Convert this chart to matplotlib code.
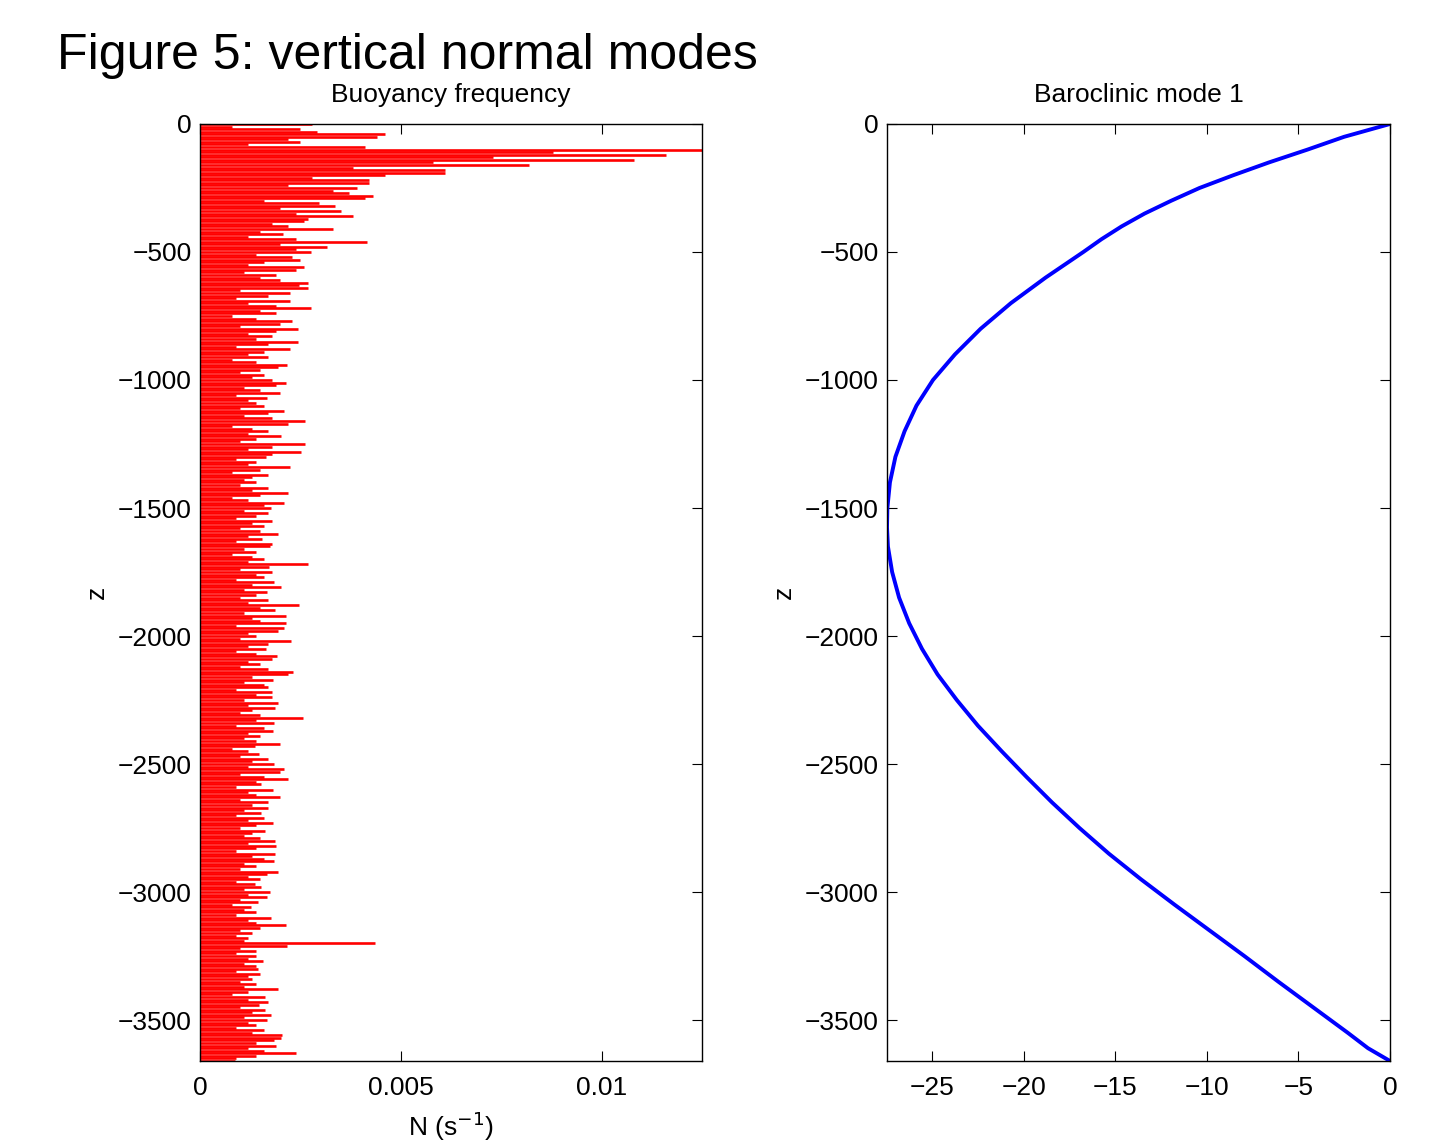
import numpy as np
import matplotlib.pyplot as plt

plt.rcParams['font.family'] = ['Liberation Sans', 'DejaVu Sans']

# buoyancy frequency, units of 1e-4 s^-1, one value every 10 m from the surface down
N_1e4 = [
    28, 8, 25, 29, 46, 44, 22, 25, 12, 41,
    125, 88, 116, 73, 108, 58, 82, 38, 61, 61,
    46, 28, 42, 42, 22, 39, 33, 37, 43, 41,
    16, 29.5, 33.7, 20, 35, 24, 38, 27, 26, 18,
    22, 33, 15, 20.6, 12, 24, 41.6, 20, 31.6, 24,
    27.6, 14, 23, 25, 16, 12, 26, 24, 11, 19,
    15, 20, 27, 24.7, 27, 10, 22.4, 17, 9, 22.4,
    12, 19, 27.7, 15, 19, 8, 14, 23, 20, 10,
    24.4, 19, 12, 18, 14, 24.5, 17, 9, 22.4, 16,
    12, 17, 8, 14, 21.6, 19.5, 15, 10, 16, 13,
    18, 21.4, 19, 11, 15, 20, 9, 16.6, 12, 14,
    16, 10, 20.8, 17, 11, 18, 26.2, 22, 8, 13,
    17, 12, 20.1, 14, 10, 26.2, 18, 12, 25.1, 18,
    16.5, 9, 14, 12, 22.3, 15, 8, 16.9, 13, 11,
    14, 10, 17, 13, 21.8, 15, 8, 12, 21, 16,
    17.6, 11, 17, 14, 9, 18, 13, 16, 10, 15,
    19.5, 12, 15.4, 9, 17.9, 17.5, 11, 14, 8, 13,
    16, 12, 27, 17.2, 10, 18, 14, 16, 9, 18.5,
    13, 20.1, 11, 16.8, 14, 10, 17, 12, 24.7, 15,
    18.7, 11, 21.4, 13, 15, 21.4, 9, 21, 19.3, 12,
    14, 10, 22.6, 17, 12, 16.4, 9, 14, 19.1, 18,
    12, 15, 10, 17, 23.1, 21.8, 13, 18.1, 11, 16,
    17, 9, 17.9, 14, 17.9, 11, 19.4, 12, 18.7, 13,
    10, 15, 25.6, 14, 18.3, 9, 16, 18.1, 12, 15,
    11, 14, 20, 13.7, 8, 12, 14.8, 10, 17, 13,
    18.3, 12, 21, 19.9, 10, 16, 22, 14, 15.1, 9,
    18.1, 12, 14, 19.8, 10, 17, 13, 17, 11, 15.1,
    9, 16, 12, 18.1, 14, 10, 16.2, 13, 11, 15,
    18.7, 12, 19, 14, 9, 18.7, 13, 16, 18.3, 11,
    14, 10, 19.5, 16.6, 12, 15, 9, 13.7, 15.1, 11,
    17.5, 12, 16.6, 10, 14.4, 8, 12.7, 11, 14, 9,
    17.6, 12, 14, 21.4, 15, 10, 13, 9, 12, 11,
    43.6, 21.6, 10, 14, 9, 14, 12, 15.6, 11, 14,
    14.4, 9, 15, 12, 13, 10, 14, 11, 19.4, 12,
    8, 16.2, 12, 17, 14.6, 10, 16.2, 13, 17.7, 11,
    16.8, 12, 14, 9, 16, 13, 20.4, 20.1, 18.3, 14,
    19, 12, 16, 24, 14, 9, 8.7,
]
dz = 10.0

# first baroclinic mode
mode_z = [0, -50, -100, -150, -200, -250, -300, -350, -400, -450, -500,
          -600, -700, -800, -900, -1000, -1100, -1200, -1300, -1400, -1500,
          -1576, -1650, -1750, -1850, -1950, -2050, -2150, -2250, -2350, -2450,
          -2550, -2650, -2750, -2850, -2950, -3050, -3150, -3250, -3350, -3450,
          -3550, -3610, -3660]
mode_val = [0, -2.5, -4.5, -6.6, -8.55, -10.4, -11.95, -13.4, -14.65, -15.75, -16.74,
            -18.8, -20.7, -22.35, -23.75, -24.95, -25.85, -26.5, -27.0, -27.3, -27.44,
            -27.46, -27.41, -27.18, -26.8, -26.25, -25.55, -24.7, -23.65, -22.5, -21.2,
            -19.85, -18.45, -16.95, -15.35, -13.6, -11.75, -9.85, -7.95, -6.1, -4.2,
            -2.3, -1.2, 0]

zbot = -3660
fs = 19

fig = plt.figure(figsize=(14.39, 11.46), dpi=100)
ax1 = fig.add_axes([0.139, 0.0742, 0.3489, 0.8176])
ax2 = fig.add_axes([0.6164, 0.0742, 0.3495, 0.8176])

N = np.array(N_1e4) * 1e-4
z = -dz * np.arange(len(N))
ax1.hlines(z, 0, N, colors='red', lw=1.9)
ax1.set_xlim(0, N.max())
ax1.set_ylim(zbot, 0)
ax1.set_xticks([0, 0.005, 0.01])
ax1.set_xticklabels(['0', '0.005', '0.01'])
ax1.set_yticks(np.arange(-3500, 1, 500))
ax1.set_title('Buoyancy frequency', fontsize=fs, pad=16)
ax1.set_xlabel('N (s$^{-1}$)', fontsize=fs, labelpad=7)
ax1.set_ylabel('z', fontsize=fs, labelpad=6)

ax2.plot(mode_val, mode_z, color='blue', lw=2.8, solid_capstyle='round',
         solid_joinstyle='round')
ax2.set_xlim(min(mode_val), 0)
ax2.set_ylim(zbot, 0)
ax2.set_xticks(np.arange(-25, 1, 5))
ax2.set_yticks(np.arange(-3500, 1, 500))
ax2.set_title('Baroclinic mode 1', fontsize=fs, pad=16)
ax2.set_ylabel('z', fontsize=fs, labelpad=6)

for ax in (ax1, ax2):
    ax.tick_params(direction='in', length=7, width=0.8, labelsize=fs,
                   top=True, right=True, pad=6)
    ax.tick_params(axis='x', pad=11)
    for s in ax.spines.values():
        s.set_linewidth(1.0)
        s.set_zorder(3)

fig.text(0.0396, 0.951, 'Figure 5: vertical normal modes', fontsize=36,
         ha='left', va='center')

fig.savefig('out.png', dpi=100)
